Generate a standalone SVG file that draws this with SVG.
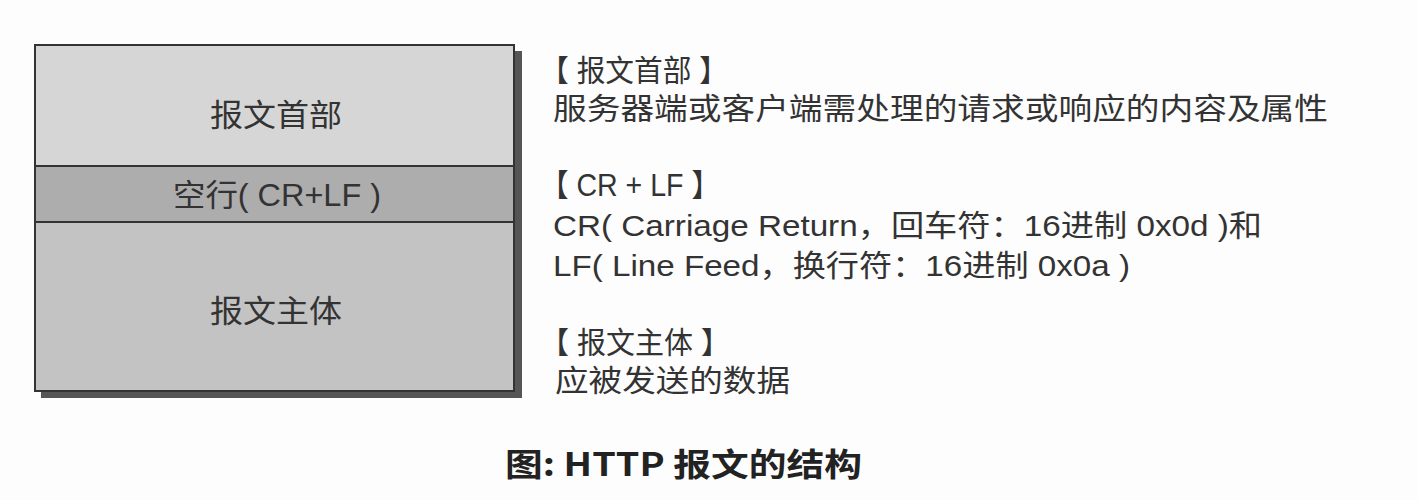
<svg xmlns="http://www.w3.org/2000/svg" width="1418" height="500" viewBox="0 0 1418 500">
<style>
.t{font-family:"Liberation Sans","Noto Sans CJK SC",sans-serif;fill:#333;}
.c{text-anchor:middle;font-size:31px;}
.r{font-size:30px;}
.cap{font-family:"Noto Sans CJK SC","Liberation Sans",sans-serif;font-size:32px;font-weight:bold;fill:#222;}
.box{stroke:#333;stroke-width:2;}
</style>
<rect x="0" y="0" width="1418" height="500" fill="#fdfdfd"/>
<rect x="41" y="51" width="481" height="347" fill="#555"/>
<g id="header">
<rect class="box" x="35" y="45" width="479" height="121" fill="#d6d6d6"/>
<text class="t c" x="276" y="126" textLength="132" lengthAdjust="spacingAndGlyphs">报文首部</text>
</g>
<g id="blankline">
<rect class="box" x="35" y="166" width="479" height="56" fill="#adadad"/>
<text class="t c" x="277" y="206" textLength="208" lengthAdjust="spacingAndGlyphs">空行( CR+LF )</text>
</g>
<g id="body">
<rect class="box" x="35" y="222" width="479" height="169" fill="#c3c3c3"/>
<text class="t c" x="276" y="322" textLength="132" lengthAdjust="spacingAndGlyphs">报文主体</text>
</g>
<g id="connectors"></g>
<g id="desc">
<text class="t r" x="540" y="81" textLength="188" lengthAdjust="spacingAndGlyphs">【 报文首部 】</text>
<text class="t r" x="553" y="119" textLength="775" lengthAdjust="spacingAndGlyphs">服务器端或客户端需处理的请求或响应的内容及属性</text>
<text class="t r" x="540" y="196" textLength="180" lengthAdjust="spacingAndGlyphs" style="font-size:31px">【 CR + LF 】</text>
<text class="t r" x="553" y="236" textLength="709" lengthAdjust="spacingAndGlyphs">CR( Carriage Return，回车符：16进制 0x0d )和</text>
<text class="t r" x="553" y="276" textLength="577" lengthAdjust="spacingAndGlyphs">LF( Line Feed，换行符：16进制 0x0a )</text>
<text class="t r" x="540" y="353" textLength="190" lengthAdjust="spacingAndGlyphs">【 报文主体 】</text>
<text class="t r" x="555" y="391" textLength="235" lengthAdjust="spacingAndGlyphs">应被发送的数据</text>
</g>
<text class="cap" x="505" y="476" textLength="357" lengthAdjust="spacingAndGlyphs">图: HTTP 报文的结构</text>
</svg>
